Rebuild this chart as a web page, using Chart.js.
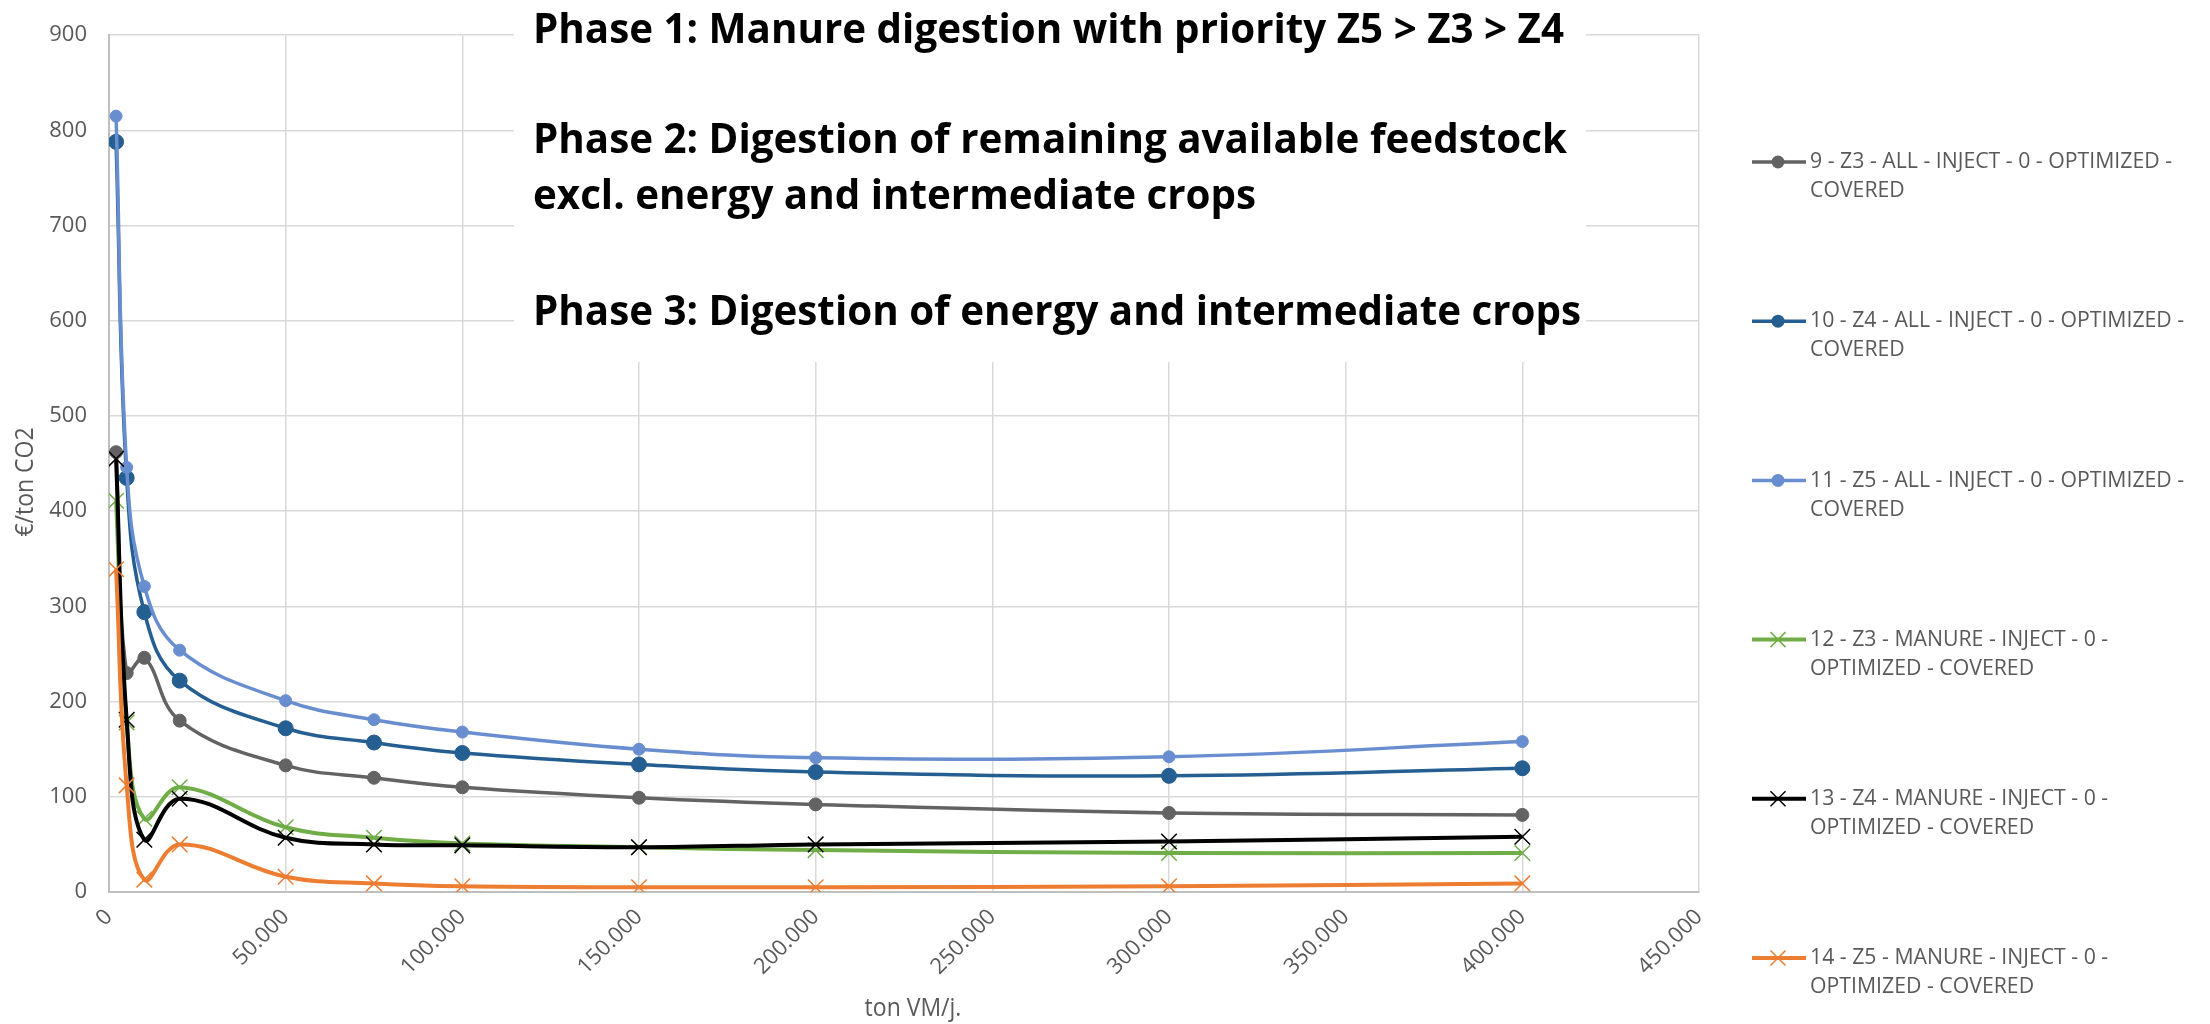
<!DOCTYPE html>
<html>
<head>
<meta charset="utf-8">
<script src="https://cdn.jsdelivr.net/npm/chart.js@4.4.0/dist/chart.umd.min.js"></script>
<style>
  html, body { margin: 0; padding: 0; background: #fff; }
  #wrap { width: 2210px; height: 1024px; position: relative; }
</style>
</head>
<body>
<div id="wrap"><canvas id="chart" width="2210" height="1024"></canvas></div>
<script>
// ton VM/j. (x) and €/ton CO2 (y)
const xValues = [2000, 5000, 10000, 20000, 50000, 75000, 100000, 150000, 200000, 300000, 400000];
const z3All    = [462, 230, 246, 180, 133, 120, 110, 99, 92, 83, 81];
const z4All    = [788, 435, 294, 222, 172, 157, 146, 134, 126, 122, 130];
const z5All    = [815, 446, 321, 254, 201, 181, 168, 150, 141, 142, 158];
const z3Manure = [411, 178, 77, 110, 68, 57, 51, 47, 44, 41, 41];
const z4Manure = [455, 181, 55, 98, 57, 50, 49, 47, 50, 53, 58];
const z5Manure = [339, 112, 13, 50, 16, 9, 6, 5, 5, 6, 9];

const seriesLabels = [
  '9 - Z3 - ALL - INJECT - 0 - OPTIMIZED - COVERED',
  '10 - Z4 - ALL - INJECT - 0 - OPTIMIZED - COVERED',
  '11 - Z5 - ALL - INJECT - 0 - OPTIMIZED - COVERED',
  '12 - Z3 - MANURE - INJECT - 0 - OPTIMIZED - COVERED',
  '13 - Z4 - MANURE - INJECT - 0 - OPTIMIZED - COVERED',
  '14 - Z5 - MANURE - INJECT - 0 - OPTIMIZED - COVERED'
];
// legend wraps like in excel
const legendLines = [
  ['9 - Z3 - ALL - INJECT - 0 - OPTIMIZED -', 'COVERED'],
  ['10 - Z4 - ALL - INJECT - 0 - OPTIMIZED -', 'COVERED'],
  ['11 - Z5 - ALL - INJECT - 0 - OPTIMIZED -', 'COVERED'],
  ['12 - Z3 - MANURE - INJECT - 0 -', 'OPTIMIZED - COVERED'],
  ['13 - Z4 - MANURE - INJECT - 0 -', 'OPTIMIZED - COVERED'],
  ['14 - Z5 - MANURE - INJECT - 0 -', 'OPTIMIZED - COVERED']
];
const phaseLines = [
  'Phase 1: Manure digestion with priority Z5 > Z3 > Z4',
  'Phase 2: Digestion of remaining available feedstock',
  'excl. energy and intermediate crops',
  'Phase 3: Digestion of energy and intermediate crops'
];
const yTitle = '€/ton CO2';
const xTitle = 'ton VM/j.';

const seriesData = [z3All, z4All, z5All, z3Manure, z4Manure, z5Manure];
const colors = ['#636363', '#255e91', '#698ed0', '#70ad47', '#000000', '#ed7d31'];
const markers = ['circle', 'circle', 'circle', 'crossRot', 'crossRot', 'crossRot'];
const markerSizes = [6.5, 7.5, 6, 11, 11, 11];
const lineWidths = [3.5, 3.5, 3.5, 4, 4, 4];

const GREY = '#595959';
const FONT = '"Open Sans", "Liberation Sans", sans-serif';

function thousands(v) {
  return String(v).replace(/\B(?=(\d{3})+(?!\d))/g, '.');
}

// draw text squeezed horizontally (calibri is narrower than what we have)
function squeezed(ctx, text, x, y, sx) {
  ctx.save();
  ctx.translate(x, y);
  ctx.scale(sx, 1);
  ctx.fillText(text, 0, 0);
  ctx.restore();
}

const extras = {
  id: 'extras',
  beforeDatasetsDraw(chart) {
    const ctx = chart.ctx;
    ctx.save();
    // white text box over the grid
    ctx.fillStyle = '#fff';
    ctx.fillRect(514, 0, 1072, 362);
    ctx.fillStyle = '#000';
    ctx.font = 'bold 42px ' + FONT;
    ctx.textBaseline = 'middle';
    ctx.textAlign = 'left';
    const sx = 1031 / ctx.measureText(phaseLines[0]).width;
    const ys = [31, 141, 197, 313];
    phaseLines.forEach((t, i) => squeezed(ctx, t, 533, ys[i], sx));
    ctx.restore();
  },
  afterDraw(chart) {
    const ctx = chart.ctx;
    ctx.save();
    // axis titles
    ctx.fillStyle = GREY;
    ctx.font = '25px ' + FONT;
    ctx.textBaseline = 'middle';
    ctx.textAlign = 'center';
    const tsx = 0.92;
    ctx.save();
    ctx.translate(26, 482);
    ctx.rotate(-Math.PI / 2);
    squeezed(ctx, yTitle, 0, 0, tsx);
    ctx.restore();
    squeezed(ctx, xTitle, 913, 1009, tsx);

    // legend
    ctx.font = '22px ' + FONT;
    ctx.textAlign = 'left';
    const lsx = 362 / ctx.measureText(legendLines[0][0]).width;
    chart.data.datasets.forEach((ds, i) => {
      const y = 162 + i * 159.2;
      ctx.strokeStyle = colors[i];
      ctx.lineWidth = lineWidths[i];
      ctx.beginPath();
      ctx.moveTo(1752, y);
      ctx.lineTo(1806, y);
      ctx.stroke();
      if (markers[i] === 'circle') {
        ctx.fillStyle = colors[i];
        ctx.beginPath();
        ctx.arc(1778, y, 6.5, 0, Math.PI * 2);
        ctx.fill();
      } else {
        ctx.lineWidth = 1.5;
        const r = 7.5;
        ctx.beginPath();
        ctx.moveTo(1778 - r, y - r); ctx.lineTo(1778 + r, y + r);
        ctx.moveTo(1778 - r, y + r); ctx.lineTo(1778 + r, y - r);
        ctx.stroke();
      }
      ctx.fillStyle = GREY;
      squeezed(ctx, legendLines[i][0], 1810, y, lsx);
      squeezed(ctx, legendLines[i][1], 1810, y + 29, lsx);
    });
    ctx.restore();
  }
};

const datasets = seriesData.map((vals, i) => ({
  label: seriesLabels[i],
  data: xValues.map((x, j) => ({ x: x, y: vals[j] })),
  borderColor: colors[i],
  backgroundColor: colors[i],
  pointBackgroundColor: colors[i],
  pointBorderColor: colors[i],
  pointStyle: markers[i],
  pointRadius: markerSizes[i],
  pointBorderWidth: markers[i] === 'circle' ? 1 : 1.5,
  borderWidth: lineWidths[i],
  tension: 0.4,
  fill: false,
  order: seriesData.length - i
}));

const tickFont = { family: FONT, size: 22 };

new Chart(document.getElementById('chart'), {
  type: 'line',
  data: { datasets: datasets },
  options: {
    responsive: false,
    animation: false,
    events: [],
    layout: { padding: { top: 31, right: 511, left: 0, bottom: 0 } },
    plugins: {
      legend: { display: false },
      tooltip: { enabled: false }
    },
    scales: {
      x: {
        type: 'linear',
        min: 0,
        max: 450000,
        afterFit: s => { s.height = 132; },
        ticks: {
          stepSize: 50000,
          autoSkip: false,
          maxRotation: 45,
          minRotation: 45,
          padding: 12,
          color: GREY,
          font: tickFont,
          callback: v => thousands(v)
        },
        grid: { color: '#d9d9d9', lineWidth: 1.5, drawTicks: false },
        border: { color: '#bfbfbf', width: 2 }
      },
      y: {
        min: 0,
        max: 900,
        afterFit: s => { s.width = 109; },
        ticks: {
          stepSize: 100,
          padding: 22,
          color: GREY,
          font: tickFont
        },
        grid: { color: '#d9d9d9', lineWidth: 1.5, drawTicks: false },
        border: { color: '#bfbfbf', width: 2 }
      }
    }
  },
  plugins: [extras]
});
</script>
</body>
</html>
